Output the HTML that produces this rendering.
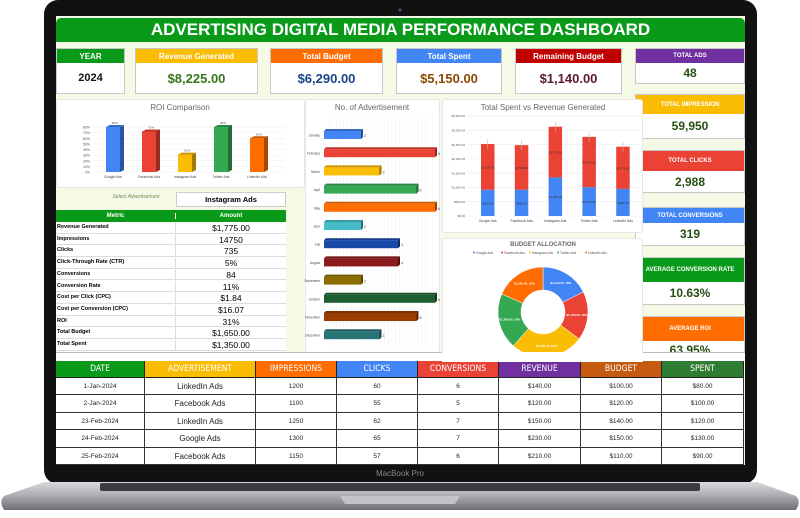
<!DOCTYPE html>
<html><head><meta charset="utf-8">
<style>
*{margin:0;padding:0;box-sizing:border-box}
body{width:800px;height:518px;background:#fff;position:relative;overflow:hidden;font-family:"Liberation Sans",sans-serif}
.a{position:absolute}
.card{position:absolute;background:#fff;border:1px solid #c8c8c8}
.hd{position:absolute;left:0;right:0;top:0;color:#fff;font-weight:bold;text-align:center;display:flex;align-items:center;justify-content:center}
.val{position:absolute;left:0;right:0;bottom:0;font-weight:bold;text-align:center;display:flex;align-items:center;justify-content:center}
.pan{position:absolute;background:#fff;border:1px solid #e6e6e6;border-radius:3px}
.mt div{position:absolute}
</style></head><body>
<svg class="a" style="left:0;top:0" width="800" height="518">
<defs>
<linearGradient id="bg" x1="0" y1="0" x2="0" y2="1"><stop offset="0" stop-color="#d9dade"/><stop offset="0.5" stop-color="#a9abb0"/><stop offset="1" stop-color="#6e7075"/></linearGradient>
</defs>
<rect x="44" y="0" width="713" height="484" rx="14" fill="#111"/>
<path d="M44 482 L757 482 L796 496 Q800 500 798 506 L796 510 L4 510 L2 506 Q0 500 4 496 Z" fill="url(#bg)"/>
<rect x="100" y="483" width="600" height="8" rx="2" fill="#3a3b3f"/>
<path d="M340 496 L460 496 L455 504 L345 504 Z" fill="#c2c3c7"/>
<circle cx="400" cy="10" r="1.5" fill="#2a5a9a"/>
<text x="400" y="476" font-size="8" fill="#888" text-anchor="middle" font-family="Liberation Sans">MacBook Pro</text>
</svg>

<div class="a" style="left:56px;top:16px;width:689px;height:449px;background:#f4fae6;overflow:hidden"></div>
<div class="a" style="left:56px;top:18px;width:689px;height:24px;background:#0a9a1a;color:#fff;font-weight:bold;font-size:17px;text-align:center;line-height:24px;border-radius:5px 5px 0 0">ADVERTISING DIGITAL MEDIA PERFORMANCE DASHBOARD</div>

<!-- KPI top row -->
<div class="card" style="left:56px;top:48px;width:69px;height:46px"><div class="hd" style="height:14px;background:#0a9a1a;font-size:8px">YEAR</div><div class="val" style="top:14px;font-size:11px;color:#111">2024</div></div>
<div class="card" style="left:135px;top:48px;width:123px;height:46px"><div class="hd" style="height:14px;background:#fbbc04;font-size:8px">Revenue Generated</div><div class="val" style="top:14px;font-size:13px;color:#38761d">$8,225.00</div></div>
<div class="card" style="left:270px;top:48px;width:113px;height:46px"><div class="hd" style="height:14px;background:#ff6d01;font-size:8px">Total Budget</div><div class="val" style="top:14px;font-size:13px;color:#1c4587">$6,290.00</div></div>
<div class="card" style="left:396px;top:48px;width:106px;height:46px"><div class="hd" style="height:14px;background:#4285f4;font-size:8px">Total Spent</div><div class="val" style="top:14px;font-size:13px;color:#8b4a00">$5,150.00</div></div>
<div class="card" style="left:515px;top:48px;width:107px;height:46px"><div class="hd" style="height:14px;background:#c00000;font-size:8px">Remaining Budget</div><div class="val" style="top:14px;font-size:13px;color:#5b1a2a">$1,140.00</div></div>

<!-- right KPI column -->
<div class="card" style="left:635px;top:48px;width:110px;height:36px"><div class="hd" style="height:14px;background:#7030a0;font-size:6px">TOTAL ADS</div><div class="val" style="top:14px;font-size:12px;color:#274e13">48</div></div>
<div class="card" style="left:635px;top:94px;width:110px;height:45px"><div class="hd" style="height:19px;background:#fbbc04;font-size:6px">TOTAL IMPRESSION</div><div class="val" style="top:19px;font-size:12px;color:#274e13">59,950</div></div>
<div class="card" style="left:635px;top:150px;width:110px;height:43px"><div class="hd" style="height:20px;background:#ea4335;font-size:6px">TOTAL CLICKS</div><div class="val" style="top:20px;font-size:12px;color:#274e13">2,988</div></div>
<div class="card" style="left:635px;top:207px;width:110px;height:39px"><div class="hd" style="height:15px;background:#4285f4;font-size:6px">TOTAL CONVERSIONS</div><div class="val" style="top:15px;font-size:12px;color:#274e13">319</div></div>
<div class="card" style="left:635px;top:257px;width:110px;height:48px"><div class="hd" style="height:24px;background:#0a9a1a;font-size:6px">AVERAGE CONVERSION RATE</div><div class="val" style="top:24px;font-size:12px;color:#274e13">10.63%</div></div>
<div class="card" style="left:635px;top:316px;width:110px;height:40px;overflow:hidden"><div class="hd" style="height:24px;background:#ff6d01;font-size:6px">AVERAGE ROI</div><div class="a" style="top:26px;left:0;right:0;text-align:center;font-weight:bold;font-size:12px;color:#274e13">63.95%</div></div>

<!-- panels -->
<div class="pan" style="left:56px;top:99px;width:249px;height:89px"></div>
<div class="pan" style="left:305px;top:99px;width:135px;height:256px"></div>
<div class="pan" style="left:442px;top:99px;width:201px;height:134px"></div>
<div class="pan" style="left:442px;top:238px;width:201px;height:118px"></div>

<!-- select + metric table -->
<div class="a" style="left:96px;top:194px;width:80px;font-size:5px;color:#7a8a5a;font-style:italic;text-align:center">Select Advertisement</div>
<div class="a" style="left:176px;top:192px;width:110px;height:15px;background:#fff;border:1px solid #ccc;font-size:7.5px;font-weight:bold;text-align:center;line-height:13px">Instagram Ads</div>
<div class="a mt" id="mt" style="left:56px;top:210px;width:230px;height:142px;background:#fff;overflow:hidden"></div>

<!-- spreadsheet column strip -->
<div class="a" style="left:56px;top:352px;width:689px;height:9px;background:#fff;border-top:1px solid #bbb"></div>

<div class="a" id="dt" style="left:56px;top:361px;width:688px;height:104px;background:#fff"></div>

<svg class="a" id="ch" style="left:0;top:0" width="800" height="518"></svg>

<script>
// ROI chart data
const roiCats=["Google Ads","Facebook Ads","Instagram Ads","Twitter Ads","LinkedIn Ads"];
const roiVals=[80,72,31,80,60];
const roiTicks=[0,10,20,30,40,50,60,70,80];
// Ads per month
const months=["January","February","March","April","May","June","July","August","September","October","November","December"];
const adsCounts=[2,6,3,5,6,2,4,4,2,6,5,3];
// Spent vs revenue
const srCats=["Google Ads","Facebook Ads","Instagram Ads","Twitter Ads","LinkedIn Ads"];
const spentVals=[920,920,1350,1010,950];
const revVals=[1600,1560,1775,1760,1475];
const srTicks=[0,500,1000,1500,2000,2500,3000,3500];
// Budget allocation
const budCats=["Google Ads","Facebook Ads","Instagram Ads","Twitter Ads","LinkedIn Ads"];
const budVals=[1110,1100,1650,1260,1160];
// Metric table
const metricNames=["Revenue Generated","Impressions","Clicks","Click-Through Rate (CTR)","Conversions","Conversion Rate","Cost per Click (CPC)","Cost per Conversion (CPC)","ROI","Total Budget","Total Spent"];
const metricVals=["$1,775.00","14750","735","5%","84","11%","$1.84","$16.07","31%","$1,650.00","$1,350.00"];
// Data table
const tHead=["DATE","ADVERTISEMENT","IMPRESSIONS","CLICKS","CONVERSIONS","REVENUE","BUDGET","SPENT"];
const tRows=[["1-Jan-2024","LinkedIn Ads","1200","60","6","$140.00","$100.00","$80.00"],
["2-Jan-2024","Facebook Ads","1100","55","5","$120.00","$120.00","$100.00"],
["23-Feb-2024","LinkedIn Ads","1250","62","7","$150.00","$140.00","$120.00"],
["24-Feb-2024","Google Ads","1300","65","7","$230.00","$150.00","$130.00"],
["25-Feb-2024","Facebook Ads","1150","57","6","$210.00","$110.00","$90.00"]];

const NS="http://www.w3.org/2000/svg";
const svg=document.getElementById('ch');
function mk(tag,at,parent){const e=document.createElementNS(NS,tag);for(const k in at)e.setAttribute(k,at[k]);(parent||svg).appendChild(e);return e;}
function tx(x,y,s,size,fill,anchor,weight){const e=mk('text',{x:x,y:y,'font-size':size,fill:fill||'#444','text-anchor':anchor||'middle','font-family':'Liberation Sans','font-weight':weight||'normal'});e.textContent=s;return e;}
function shade(c,f){const n=parseInt(c.slice(1),16);let r=(n>>16)*f,g=((n>>8)&255)*f,b=(n&255)*f;return 'rgb('+[r,g,b].map(v=>Math.round(Math.min(255,v))).join(',')+')';}
const pal=["#4285f4","#ea4335","#fbbc04","#34a853","#ff6d01"];

// ---- ROI
let t=tx(180,110,"ROI Comparison",8,'#666');
const rY=v=>172-v/80*45;
const rX=i=>106+i*36;
roiTicks.forEach(v=>{const l=mk('line',{x1:94,x2:285,y1:rY(v),y2:rY(v),stroke:'#eee','stroke-width':0.5});
 const lb=tx(90,rY(v)+1.5,v+'%',3.5,'#555','end');});
roiVals.forEach((v,i)=>{const x=rX(i),y=rY(v),w=14,d=4,c=pal[i];
 const g=mk('g',{});
 mk('rect',{x:x,y:y,width:w,height:172-y,fill:c},g);
 mk('path',{d:`M${x+w} ${y} l${d} -2 L${x+w+d} ${170} L${x+w} 172 Z`,fill:shade(c,0.65)},g);
 mk('path',{d:`M${x} ${y} l${d} -2 l${w} 0 l${-d} 2 Z`,fill:shade(c,0.8)},g);
 const lb=tx(x+w/2+2,y-3,v+'%',3,'#555');
 const cl=tx(x+w/2,178,roiCats[i],3.5,'#444');});

// ---- Ads per month
t=tx(372,110,"No. of Advertisement",8,'#666');
const aX=v=>324+v*18.5;
const aY=i=>135+i*18.2;
for(let k=0;k<=30;k++){const l=mk('line',{x1:324+k*3.7+5,x2:324+k*3.7+5,y1:118,y2:345,stroke:'#f0f0f0','stroke-width':0.5});}
const mCols=["#4285f4","#ea4335","#fbbc04","#34a853","#ff6d01","#46bdc6","#1a4aa8","#8b1a1a","#8b6d00","#1e5e2e","#993d00","#2a7377"];
adsCounts.forEach((v,i)=>{const y=aY(i)-4,x2=aX(v),c=mCols[i];
 const g=mk('g',{});
 mk('path',{d:`M324 ${y} l2 -2 L${x2+2} ${y-2} L${x2} ${y} Z`,fill:shade(c,0.8)},g);
 mk('path',{d:`M${x2} ${y} l2 -2 l0 8 l-2 2 Z`,fill:shade(c,0.6)},g);
 mk('rect',{x:324,y:y,width:x2-324,height:8,fill:c},g);
 const lb=tx(x2+3,y+6,String(v),3.5,'#444','start');
 const ml=tx(320,y+5.5,months[i],3.2,'#444','end');});

// ---- Spent vs revenue
t=tx(543,110,"Total Spent vs Revenue Generated",8,'#666');
const sY=v=>216-v/3500*100;
const sX=i=>481+i*33.8;
srTicks.forEach(v=>{const l=mk('line',{x1:468,x2:640,y1:sY(v),y2:sY(v),stroke:'#e8e8e8','stroke-width':0.5});
 const lb=tx(465,sY(v)+1.2,'$'+v.toLocaleString('en-US')+'.00',3,'#555','end');});
srCats.forEach((c,i)=>{const x=sX(i),w=13.5,s=spentVals[i],r=revVals[i];
 const b=mk('rect',{x:x,y:sY(s),width:w,height:216-sY(s),fill:'#4285f4'});
 const rb=mk('rect',{x:x,y:sY(s+r),width:w,height:sY(s)-sY(s+r),fill:'#ea4335'});
 const e=mk('line',{x1:x+w/2,x2:x+w/2,y1:sY(s+r)-5,y2:sY(s+r)+5,stroke:'#bbb','stroke-width':0.6});
 const l1=tx(x+w/2,sY(s/2)+1.5,'$'+s.toLocaleString('en-US')+'.00',3,'#333');
 const l2=tx(x+w/2,sY(s+r/2)+1.5,'$'+r.toLocaleString('en-US')+'.00',3,'#333');
 const cl=tx(x+w/2,222,c,3.5,'#444');});

// ---- Donut
t=tx(543,246,"BUDGET ALLOCATION",6,'#666','middle','bold');
budCats.forEach((c,i)=>{const lx=474+i*28;const d=mk('circle',{cx:lx,cy:252.5,r:1,fill:pal[i]});
 const l=tx(lx+2,254,c,3.3,'#555','start');});
const tot=budVals.reduce((a,b)=>a+b,0);const cx=543,cy=312,R=45,r0=22;let ang=-Math.PI/2;
const dg=mk('g',{});
budVals.forEach((v,i)=>{const a2=ang+v/tot*2*Math.PI;const p=(a,rr)=>[cx+rr*Math.cos(a),cy+rr*Math.sin(a)];
 const [x1,y1]=p(ang,R),[x2,y2]=p(a2,R),[x3,y3]=p(a2,r0),[x4,y4]=p(ang,r0);const lg=(a2-ang)>Math.PI?1:0;
 const s=mk('path',{d:`M${x1} ${y1} A${R} ${R} 0 ${lg} 1 ${x2} ${y2} L${x3} ${y3} A${r0} ${r0} 0 ${lg} 0 ${x4} ${y4} Z`,fill:pal[i],stroke:'#fff','stroke-width':0.5},dg);
 
 const [lx,ly]=p((ang+a2)/2,34);const l=tx(lx,ly+1,'$'+v.toLocaleString('en-US')+'.00, '+Math.round(v/tot*100)+'%',3,'#fff','middle','bold');
 ang=a2;});
// clip donut below screen content area
const cover=mk('rect',{x:442,y:352,width:201,height:10,fill:'#fff'});

// ---- Metric table
const mt=document.getElementById('mt');
let h=document.createElement('div');
h.style.cssText='left:0;top:0;width:230px;height:12px;background:#0a9a1a;color:#fff;font-size:6px;font-weight:bold';
h.innerHTML='<span style="position:absolute;left:0;width:119px;text-align:center;top:3px">Metric</span><span style="position:absolute;left:119px;width:111px;text-align:center;top:3px;border-left:1px solid #fff">Amount</span>';mt.appendChild(h);
metricNames.forEach((n,i)=>{const r=document.createElement('div');
 r.style.cssText=`left:0;top:${12+i*11.7}px;width:230px;height:11.7px;border-bottom:1px solid #ddd`;
 r.innerHTML=`<span style="position:absolute;left:1px;top:2px;font-size:5.5px;font-weight:bold">${n}</span><span style="position:absolute;left:119px;width:111px;top:1px;text-align:center;font-size:8.5px;border-left:1px solid #ddd;height:11px">${metricVals[i]}</span>`;mt.appendChild(r);});

// ---- Data table
const dt=document.getElementById('dt');
const colX=[0,89,200,281,362,443,525,606,688];
const hCol=["#0a9a1a","#fbbc04","#ff6d01","#4285f4","#ea4335","#7030a0","#c55a11","#2e7d32"];
tHead.forEach((s,j)=>{const c=document.createElement('div');
 c.style.cssText=`position:absolute;left:${colX[j]}px;top:0;width:${colX[j+1]-colX[j]}px;height:17px;background:${hCol[j]};color:#fff;font-size:8.5px;text-align:center;line-height:17px;font-family:"DejaVu Sans Condensed","Liberation Sans Narrow",sans-serif;border-right:1px solid #222;border-bottom:1.5px solid #222`;c.textContent=s;dt.appendChild(c);});
tRows.forEach((row,i)=>row.forEach((s,j)=>{const c=document.createElement('div');
 c.style.cssText=`position:absolute;left:${colX[j]}px;top:${17+i*17.4}px;width:${colX[j+1]-colX[j]}px;height:17.4px;color:#222;font-size:${j==1?8:6.5}px;text-align:center;line-height:17px;border-right:1px solid #333;border-bottom:1.5px solid #333`;c.textContent=s;dt.appendChild(c);}));
</script>
</body></html>
